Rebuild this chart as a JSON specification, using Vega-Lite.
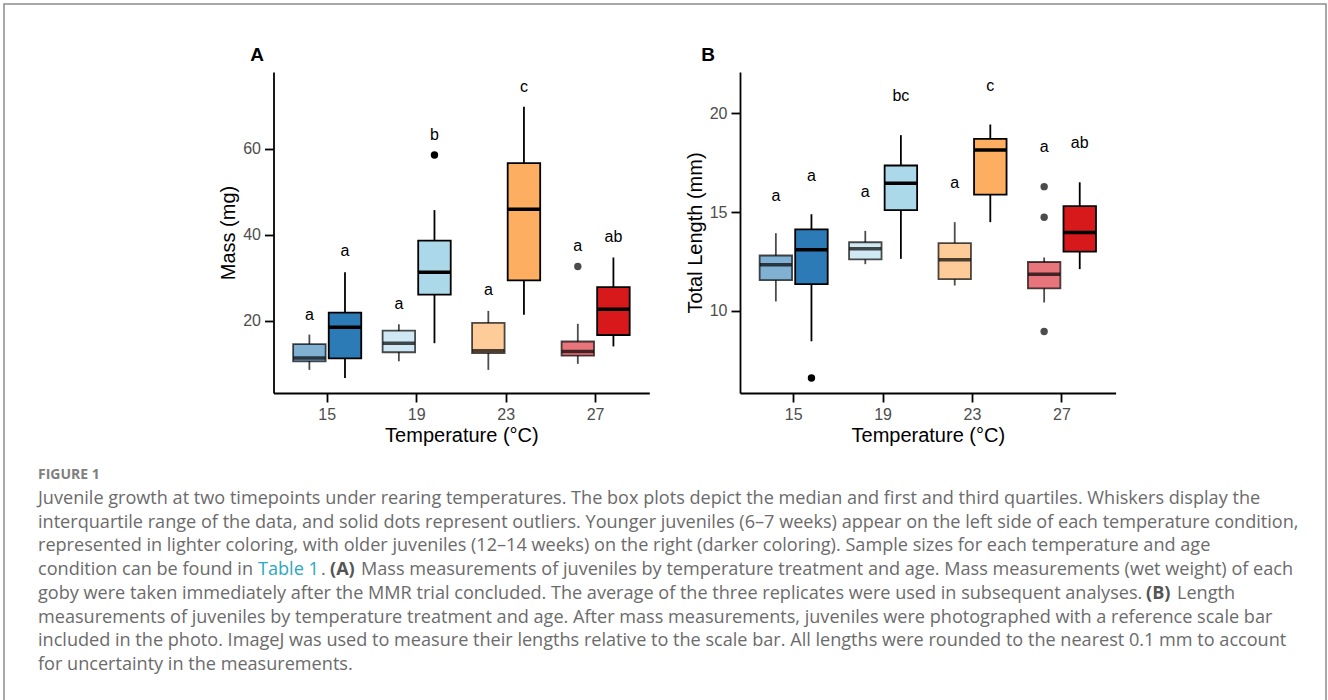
{
  "$schema": "https://vega.github.io/schema/vega-lite/v6.json",
  "width": 1322,
  "height": 700,
  "autosize": {"type": "none"},
  "padding": {"left": 4, "top": 4, "right": 2, "bottom": -4},
  "background": "white",
  "config": {
    "view": {"stroke": "#8c8c8c", "strokeWidth": 1.5},
    "axis": {
      "domainColor": "black", "domainWidth": 1.8,
      "tickColor": "black", "tickWidth": 1.8, "tickSize": 9,
      "labelColor": "#4d4d4d", "labelFontSize": 16, "labelFont": "Liberation Sans",
      "titleFont": "Liberation Sans", "titleFontSize": 20, "titleFontWeight": "normal", "titleColor": "black",
      "grid": false, "labelPadding": 4, "titlePadding": 4
    },
    "text": {"font": "Liberation Sans"}
  },
  "layer": [
    {
      "data": {"values": [
        {"temp": "15", "age": "young", "grp": "15y", "lo": 8.6, "q1": 10.6, "med": 11.35, "q3": 14.6, "hi": 16.8, "letter": "a", "ly": 21.4},
        {"temp": "15", "age": "old", "grp": "15o", "lo": 6.7, "q1": 11.3, "med": 18.5, "q3": 21.9, "hi": 31.3, "letter": "a", "ly": 36.1},
        {"temp": "19", "age": "young", "grp": "19y", "lo": 10.6, "q1": 12.7, "med": 14.8, "q3": 17.7, "hi": 19.2, "letter": "a", "ly": 23.9},
        {"temp": "19", "age": "old", "grp": "19o", "lo": 14.8, "q1": 26.1, "med": 31.3, "q3": 38.6, "hi": 45.7, "letter": "b", "ly": 63.2},
        {"temp": "23", "age": "young", "grp": "23y", "lo": 8.6, "q1": 12.5, "med": 13.05, "q3": 19.5, "hi": 22.3, "letter": "a", "ly": 27.2},
        {"temp": "23", "age": "old", "grp": "23o", "lo": 21.4, "q1": 29.4, "med": 45.9, "q3": 56.6, "hi": 69.7, "letter": "c", "ly": 74.3},
        {"temp": "27", "age": "young", "grp": "27y", "lo": 10.0, "q1": 11.9, "med": 12.9, "q3": 15.2, "hi": 19.3, "letter": "a", "ly": 37.4},
        {"temp": "27", "age": "old", "grp": "27o", "lo": 14.05, "q1": 16.7, "med": 22.7, "q3": 27.8, "hi": 34.7, "letter": "ab", "ly": 39.5}
      ]},
      "encoding": {
        "x": {"field": "temp", "type": "nominal",
          "scale": {"type": "band", "domain": ["15", "19", "23", "27"], "range": [269.5, 645.3], "paddingInner": 0, "paddingOuter": 0.1},
          "axis": {"orient": "bottom", "offset": -311, "title": "Temperature (°C)", "labelAngle": 0, "titlePadding": 3}},
        "xOffset": {"field": "age", "type": "nominal", "scale": {"domain": ["young", "old"], "paddingInner": 0.087, "paddingOuter": 0.3}}
      },
      "layer": [
        {
          "mark": {"type": "rule", "color": "black", "strokeWidth": 1.8},
          "encoding": {
            "y": {"field": "lo", "type": "quantitative", "scale": {"domain": [3.24, 77.76], "range": [389, 68], "nice": false, "zero": false},
              "axis": {"orient": "left", "offset": -269.5, "values": [20, 40, 60], "title": "Mass (mg)"}},
            "y2": {"field": "hi"},
            "opacity": {"field": "age", "type": "ordinal", "scale": {"domain": ["young", "old"], "range": [0.7, 1]}, "legend": null}
          }
        },
        {
          "mark": {"type": "bar", "stroke": "black", "strokeWidth": 1.8},
          "encoding": {
            "y": {"field": "q1", "type": "quantitative", "scale": {"domain": [3.24, 77.76], "range": [389, 68], "nice": false, "zero": false},
              "axis": {"orient": "left", "offset": -269.5, "values": [20, 40, 60], "title": "Mass (mg)"}},
            "y2": {"field": "q3"},
            "fill": {"field": "grp", "type": "nominal", "scale": {"domain": ["15y", "15o", "19y", "19o", "23y", "23o", "27y", "27o"], "range": ["#80B1D3", "#2C7BB6", "#CFE8F3", "#ABD9E9", "#FECC99", "#FDAE61", "#E8757B", "#D7191C"]}, "legend": null},
            "strokeOpacity": {"field": "age", "type": "ordinal", "scale": {"domain": ["young", "old"], "range": [0.7, 1]}, "legend": null}
          }
        },
        {
          "mark": {"type": "tick", "color": "black", "thickness": 3.5, "size": 32},
          "encoding": {
            "y": {"field": "med", "type": "quantitative", "scale": {"domain": [3.24, 77.76], "range": [389, 68], "nice": false, "zero": false},
              "axis": {"orient": "left", "offset": -269.5, "values": [20, 40, 60], "title": "Mass (mg)"}},
            "opacity": {"field": "age", "type": "ordinal", "scale": {"domain": ["young", "old"], "range": [0.7, 1]}, "legend": null}
          }
        },
        {
          "mark": {"type": "text", "fontSize": 16, "color": "black", "baseline": "middle"},
          "encoding": {
            "y": {"field": "ly", "type": "quantitative", "scale": {"domain": [3.24, 77.76], "range": [389, 68], "nice": false, "zero": false},
              "axis": {"orient": "left", "offset": -269.5, "values": [20, 40, 60], "title": "Mass (mg)"}},
            "text": {"field": "letter"}
          }
        },
        {
          "data": {"values": [
            {"temp": "19", "age": "old", "value": 58.5},
            {"temp": "27", "age": "young", "value": 32.6}
          ]},
          "mark": {"type": "point", "filled": true, "size": 55, "color": "black"},
          "encoding": {
            "y": {"field": "value", "type": "quantitative", "scale": {"domain": [3.24, 77.76], "range": [389, 68], "nice": false, "zero": false},
              "axis": {"orient": "left", "offset": -269.5, "values": [20, 40, 60], "title": "Mass (mg)"}},
            "opacity": {"field": "age", "type": "ordinal", "scale": {"domain": ["young", "old"], "range": [0.7, 1]}, "legend": null}
          }
        }
      ]
    },
    {
      "data": {"values": [
        {"temp": "15", "age": "young", "grp": "15y", "lo": 10.47, "q1": 11.55, "med": 12.33, "q3": 12.8, "hi": 13.93, "letter": "a", "ly": 15.83},
        {"temp": "15", "age": "old", "grp": "15o", "lo": 8.45, "q1": 11.35, "med": 13.09, "q3": 14.12, "hi": 14.89, "letter": "a", "ly": 16.83},
        {"temp": "19", "age": "young", "grp": "19y", "lo": 12.36, "q1": 12.6, "med": 13.14, "q3": 13.47, "hi": 14.05, "letter": "a", "ly": 16.04},
        {"temp": "19", "age": "old", "grp": "19o", "lo": 12.63, "q1": 15.1, "med": 16.46, "q3": 17.36, "hi": 18.9, "letter": "bc", "ly": 20.89},
        {"temp": "23", "age": "young", "grp": "23y", "lo": 11.28, "q1": 11.6, "med": 12.58, "q3": 13.43, "hi": 14.49, "letter": "a", "ly": 16.46},
        {"temp": "23", "age": "old", "grp": "23o", "lo": 14.49, "q1": 15.88, "med": 18.15, "q3": 18.71, "hi": 19.44, "letter": "c", "ly": 21.38},
        {"temp": "27", "age": "young", "grp": "27y", "lo": 10.42, "q1": 11.13, "med": 11.85, "q3": 12.47, "hi": 12.7, "letter": "a", "ly": 18.28},
        {"temp": "27", "age": "old", "grp": "27o", "lo": 12.11, "q1": 13.0, "med": 13.96, "q3": 15.3, "hi": 16.51, "letter": "ab", "ly": 18.48}
      ]},
      "encoding": {
        "x": {"field": "temp", "type": "nominal",
          "scale": {"type": "band", "domain": ["15", "19", "23", "27"], "range": [736, 1111.6], "paddingInner": 0, "paddingOuter": 0.1},
          "axis": {"orient": "bottom", "offset": -311, "title": "Temperature (°C)", "labelAngle": 0, "titlePadding": 3}},
        "xOffset": {"field": "age", "type": "nominal", "scale": {"domain": ["young", "old"], "paddingInner": 0.087, "paddingOuter": 0.3}}
      },
      "layer": [
        {
          "mark": {"type": "rule", "color": "black", "strokeWidth": 1.8},
          "encoding": {
            "y": {"field": "lo", "type": "quantitative", "scale": {"domain": [5.83, 22.1], "range": [389, 68], "nice": false, "zero": false},
              "axis": {"orient": "left", "offset": -736, "values": [10, 15, 20], "title": "Total Length (mm)"}},
            "y2": {"field": "hi"},
            "opacity": {"field": "age", "type": "ordinal", "scale": {"domain": ["young", "old"], "range": [0.7, 1]}, "legend": null}
          }
        },
        {
          "mark": {"type": "bar", "stroke": "black", "strokeWidth": 1.8},
          "encoding": {
            "y": {"field": "q1", "type": "quantitative", "scale": {"domain": [5.83, 22.1], "range": [389, 68], "nice": false, "zero": false},
              "axis": {"orient": "left", "offset": -736, "values": [10, 15, 20], "title": "Total Length (mm)"}},
            "y2": {"field": "q3"},
            "fill": {"field": "grp", "type": "nominal", "scale": {"domain": ["15y", "15o", "19y", "19o", "23y", "23o", "27y", "27o"], "range": ["#80B1D3", "#2C7BB6", "#CFE8F3", "#ABD9E9", "#FECC99", "#FDAE61", "#E8757B", "#D7191C"]}, "legend": null},
            "strokeOpacity": {"field": "age", "type": "ordinal", "scale": {"domain": ["young", "old"], "range": [0.7, 1]}, "legend": null}
          }
        },
        {
          "mark": {"type": "tick", "color": "black", "thickness": 3.5, "size": 32},
          "encoding": {
            "y": {"field": "med", "type": "quantitative", "scale": {"domain": [5.83, 22.1], "range": [389, 68], "nice": false, "zero": false},
              "axis": {"orient": "left", "offset": -736, "values": [10, 15, 20], "title": "Total Length (mm)"}},
            "opacity": {"field": "age", "type": "ordinal", "scale": {"domain": ["young", "old"], "range": [0.7, 1]}, "legend": null}
          }
        },
        {
          "mark": {"type": "text", "fontSize": 16, "color": "black", "baseline": "middle"},
          "encoding": {
            "y": {"field": "ly", "type": "quantitative", "scale": {"domain": [5.83, 22.1], "range": [389, 68], "nice": false, "zero": false},
              "axis": {"orient": "left", "offset": -736, "values": [10, 15, 20], "title": "Total Length (mm)"}},
            "text": {"field": "letter"}
          }
        },
        {
          "data": {"values": [
            {"temp": "15", "age": "old", "value": 6.59},
            {"temp": "27", "age": "young", "value": 16.29},
            {"temp": "27", "age": "young", "value": 14.74},
            {"temp": "27", "age": "young", "value": 8.95}
          ]},
          "mark": {"type": "point", "filled": true, "size": 55, "color": "black"},
          "encoding": {
            "y": {"field": "value", "type": "quantitative", "scale": {"domain": [5.83, 22.1], "range": [389, 68], "nice": false, "zero": false},
              "axis": {"orient": "left", "offset": -736, "values": [10, 15, 20], "title": "Total Length (mm)"}},
            "opacity": {"field": "age", "type": "ordinal", "scale": {"domain": ["young", "old"], "range": [0.7, 1]}, "legend": null}
          }
        }
      ]
    },
    {
      "data": {"values": [{"panel": "A"}, {"panel": "B"}]},
      "mark": {"type": "text", "fontSize": 19, "fontWeight": "bold", "color": "black", "baseline": "middle", "align": "center"},
      "encoding": {
        "x": {"field": "panel", "type": "nominal", "scale": {"type": "point", "domain": ["A", "B"], "range": [253, 704], "padding": 0}, "axis": null},
        "y": {"value": 51},
        "text": {"field": "panel"}
      }
    },
    {
      "data": {"values": [
        {"line": 0, "seg": "head", "text": "FIGURE 1"},
        {"line": 1, "seg": "body", "text": "Juvenile growth at two timepoints under rearing temperatures. The box plots depict the median and first and third quartiles. Whiskers display the"},
        {"line": 2, "seg": "body", "text": "interquartile range of the data, and solid dots represent outliers. Younger juveniles (6–7 weeks) appear on the left side of each temperature condition,"},
        {"line": 3, "seg": "body", "text": "represented in lighter coloring, with older juveniles (12–14 weeks) on the right (darker coloring). Sample sizes for each temperature and age"},
        {"line": 4, "seg": "body", "text": "condition can be found in"},
        {"line": 4, "seg": "table", "text": "Table 1"},
        {"line": 4, "seg": "dot", "text": "."},
        {"line": 4, "seg": "A", "text": "(A)"},
        {"line": 4, "seg": "rest", "text": "Mass measurements of juveniles by temperature treatment and age. Mass measurements (wet weight) of each"},
        {"line": 5, "seg": "body", "text": "goby were taken immediately after the MMR trial concluded. The average of the three replicates were used in subsequent analyses."},
        {"line": 5, "seg": "B", "text": "(B)"},
        {"line": 5, "seg": "len", "text": "Length"},
        {"line": 6, "seg": "body", "text": "measurements of juveniles by temperature treatment and age. After mass measurements, juveniles were photographed with a reference scale bar"},
        {"line": 7, "seg": "body", "text": "included in the photo. ImageJ was used to measure their lengths relative to the scale bar. All lengths were rounded to the nearest 0.1 mm to account"},
        {"line": 8, "seg": "body", "text": "for uncertainty in the measurements."}
      ]},
      "encoding": {
        "y": {"field": "line", "type": "ordinal", "scale": {"type": "point", "domain": [0, 1, 2, 3, 4, 5, 6, 7, 8], "range": [471, 661], "padding": 0}, "axis": null},
        "text": {"field": "text"}
      },
      "layer": [
        {
          "transform": [{"filter": "datum.seg === 'head'"}],
          "mark": {"type": "text", "align": "left", "baseline": "middle", "font": "Open Sans", "fontSize": 14, "fontWeight": "bold", "color": "#808080"},
          "encoding": {"x": {"value": 34}}
        },
        {
          "transform": [{"filter": "datum.seg === 'body'"}],
          "mark": {"type": "text", "align": "left", "baseline": "middle", "font": "Open Sans", "fontSize": 18.1, "color": "#6b6b6b"},
          "encoding": {"x": {"value": 34}}
        },
        {
          "transform": [{"filter": "datum.seg === 'table'"}],
          "mark": {"type": "text", "align": "left", "baseline": "middle", "font": "Open Sans", "fontSize": 18.1, "color": "#2aa7c4"},
          "encoding": {"x": {"value": 254}}
        },
        {
          "transform": [{"filter": "datum.seg === 'dot'"}],
          "mark": {"type": "text", "align": "left", "baseline": "middle", "font": "Open Sans", "fontSize": 18.1, "color": "#6b6b6b"},
          "encoding": {"x": {"value": 317}}
        },
        {
          "transform": [{"filter": "datum.seg === 'A'"}],
          "mark": {"type": "text", "align": "left", "baseline": "middle", "font": "Open Sans", "fontSize": 18.1, "fontWeight": "bold", "color": "#555555"},
          "encoding": {"x": {"value": 326}}
        },
        {
          "transform": [{"filter": "datum.seg === 'rest'"}],
          "mark": {"type": "text", "align": "left", "baseline": "middle", "font": "Open Sans", "fontSize": 18.1, "color": "#6b6b6b"},
          "encoding": {"x": {"value": 357}}
        },
        {
          "transform": [{"filter": "datum.seg === 'B'"}],
          "mark": {"type": "text", "align": "left", "baseline": "middle", "font": "Open Sans", "fontSize": 18.1, "fontWeight": "bold", "color": "#555555"},
          "encoding": {"x": {"value": 1142}}
        },
        {
          "transform": [{"filter": "datum.seg === 'len'"}],
          "mark": {"type": "text", "align": "left", "baseline": "middle", "font": "Open Sans", "fontSize": 18.1, "color": "#6b6b6b"},
          "encoding": {"x": {"value": 1173}}
        }
      ]
    }
  ],
  "resolve": {
    "scale": {"x": "independent", "y": "independent", "xOffset": "independent"},
    "axis": {"x": "independent", "y": "independent"}
  }
}
